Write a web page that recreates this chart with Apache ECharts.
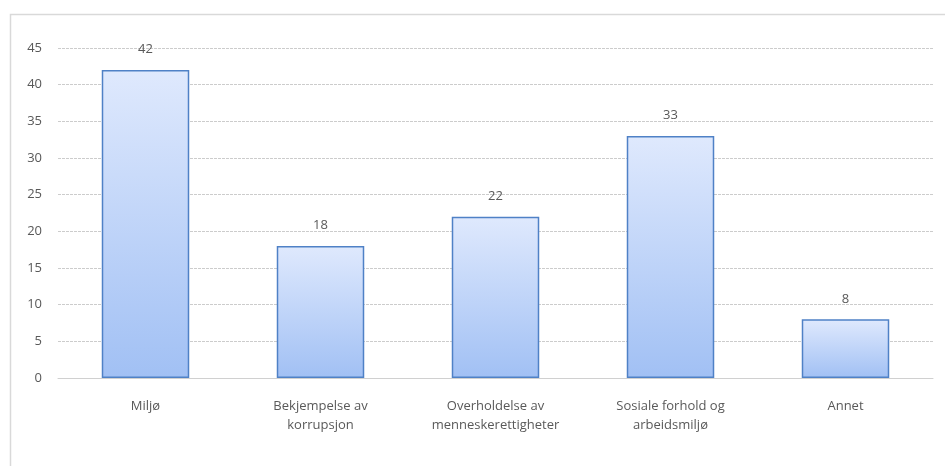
<!DOCTYPE html>
<html>
<head>
<meta charset="utf-8">
<script src="https://cdn.jsdelivr.net/npm/echarts@6/dist/echarts.min.js"></script>
<style>
  html, body { margin: 0; padding: 0; background: #fff; }
  #chart { width: 945px; height: 466px; }
</style>
</head>
<body>
<div id="chart"></div>
<script>
// data
var categories = ['Miljø', 'Bekjempelse av\nkorrupsjon', 'Overholdelse av\nmenneskerettigheter', 'Sosiale forhold og\narbeidsmiljø', 'Annet']
var counts = [42, 18, 22, 33, 8]

var chart = echarts.init(document.getElementById('chart'))

chart.setOption({
  animation: false,
  graphic: [{
    type: 'rect',
    left: 8,
    top: 12,
    shape: { width: 960, height: 480 },
    style: { fill: 'none', stroke: '#d9d9d9', lineWidth: 1.5 },
    silent: true
  }],
  grid: {
    left: 58,
    right: 12,
    top: 48,
    bottom: 88
  },
  xAxis: {
    type: 'category',
    data: categories,
    axisLine: { lineStyle: { color: '#d0d0d0', width: 1 } },
    axisTick: { show: false },
    axisLabel: {
      color: '#595959',
      fontFamily: 'Open Sans',
      fontSize: 13,
      lineHeight: 19,
      margin: 19,
      interval: 0
    }
  },
  yAxis: {
    type: 'value',
    min: 0,
    max: 45,
    interval: 5,
    axisLine: { show: false },
    axisTick: { show: false },
    axisLabel: {
      color: '#595959',
      fontFamily: 'Open Sans',
      fontSize: 13,
      margin: 16
    },
    splitLine: { lineStyle: { color: '#cccccc', type: [3, 1] } }
  },
  series: [{
    type: 'bar',
    data: counts,
    barWidth: '50%',
    itemStyle: {
      color: new echarts.graphic.LinearGradient(0, 0, 0, 1, [
        { offset: 0, color: '#dfe9fd' },
        { offset: 1, color: '#a1c0f4' }
      ]),
      borderColor: '#4f81c6',
      borderWidth: 1.5
    },
    label: {
      show: true,
      position: 'top',
      distance: 14,
      color: '#595959',
      fontFamily: 'Open Sans',
      fontSize: 13
    }
  }]
})
</script>
</body>
</html>
